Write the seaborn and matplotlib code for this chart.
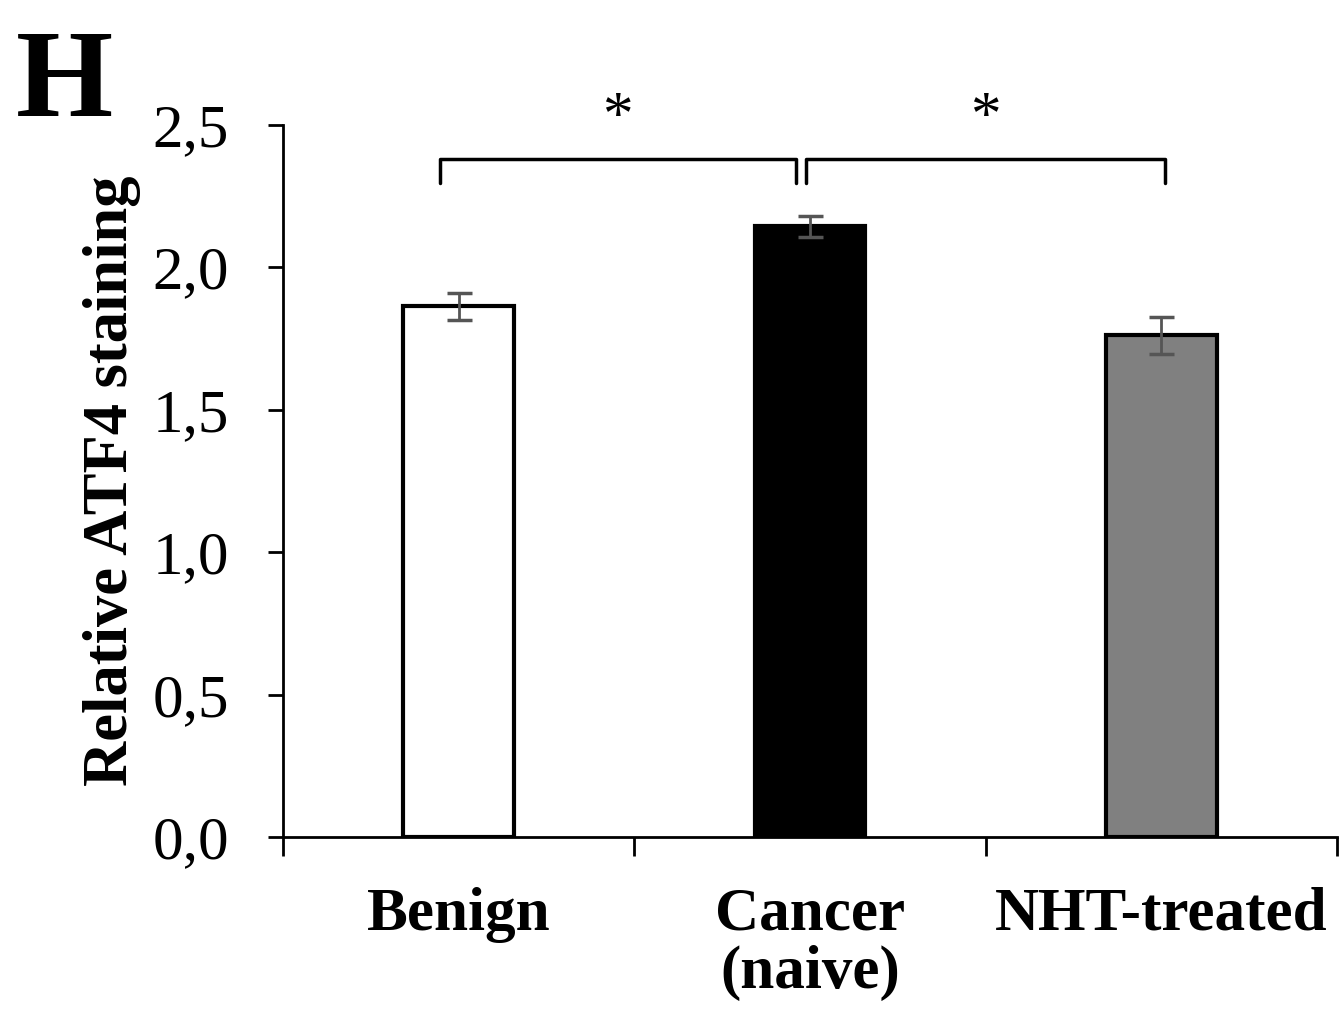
import numpy as np
import pandas as pd
import matplotlib
matplotlib.use("Agg")
import matplotlib.pyplot as plt
import seaborn as sns
from matplotlib.ticker import FixedLocator, FuncFormatter

# data
groups = ["Benign", "Cancer\n(naive)", "NHT-treated"]
atf4_mean = [1.863, 2.144, 1.761]
atf4_err = [0.047, 0.037, 0.065]
bar_colors = ["white", "black", "#808080"]
y_ticks = [0.0, 0.5, 1.0, 1.5, 2.0, 2.5]
# significance brackets: (left x, right x, star label)
brackets = [(-0.054, 0.96, "*"), (0.99, 2.01, "*")]

sns.set_style("white")
plt.rcParams["font.family"] = ["Liberation Serif", "DejaVu Serif"]
plt.rcParams["text.color"] = "black"
plt.rcParams["axes.labelcolor"] = "black"
plt.rcParams["xtick.color"] = "black"
plt.rcParams["ytick.color"] = "black"

df = pd.DataFrame({"group": groups, "value": atf4_mean})

fig = plt.figure(figsize=(13.39, 10.15), dpi=100)
ax = fig.add_axes([0.2114, 0.1754, 0.787, 0.7014])

sns.barplot(data=df, x="group", y="value", hue="group", palette=bar_colors,
            width=0.315, edgecolor="black", linewidth=3, legend=False, ax=ax)
ax.errorbar(np.arange(len(groups)), atf4_mean, yerr=atf4_err, fmt="none",
            ecolor="#555555", elinewidth=2, capsize=9, capthick=2.5)

ax.set_xlim(-0.5, 2.5)
ax.set_ylim(0, 2.5)

# y axis
ax.yaxis.set_major_locator(FixedLocator(y_ticks))
ax.yaxis.set_major_formatter(FuncFormatter(lambda v, p: f"{v:.1f}".replace(".", ",")))
ax.tick_params(axis="y", which="major", direction="out", length=11, width=2,
               labelsize=44, pad=28, left=True)
ax.set_ylabel("Relative ATF4 staining", fontsize=45, fontweight="bold", labelpad=8)

# x axis: ticks between categories, labels under categories
ax.set_xlabel("")
ax.xaxis.set_major_locator(FixedLocator([-0.5, 0.5, 1.5, 2.5]))
ax.xaxis.set_major_formatter(FuncFormatter(lambda v, p: ""))
ax.xaxis.set_minor_locator(FixedLocator(range(len(groups))))
ax.set_xticklabels(groups, minor=True, fontsize=44, fontweight="bold",
                   linespacing=1.05)
ax.tick_params(axis="x", which="major", direction="out", length=14, width=2, bottom=True)
ax.tick_params(axis="x", which="minor", length=0, pad=36)

for side in ["top", "right"]:
    ax.spines[side].set_visible(False)
for side in ["left", "bottom"]:
    ax.spines[side].set_linewidth(2)
    ax.spines[side].set_color("black")

# significance brackets
y_top, y_low = 2.382, 2.295
for x0, x1, star in brackets:
    ax.plot([x0, x0, x1, x1], [y_low, y_top, y_top, y_low], color="black",
            lw=2.5, clip_on=False)
    ax.text((x0 + x1) / 2, 2.425, star, ha="center", va="bottom", fontsize=44,
            clip_on=False)

fig.text(0.012, 0.886, "H", fontsize=90, fontweight="bold", ha="left", va="baseline")

fig.savefig("out.png", dpi=100)
